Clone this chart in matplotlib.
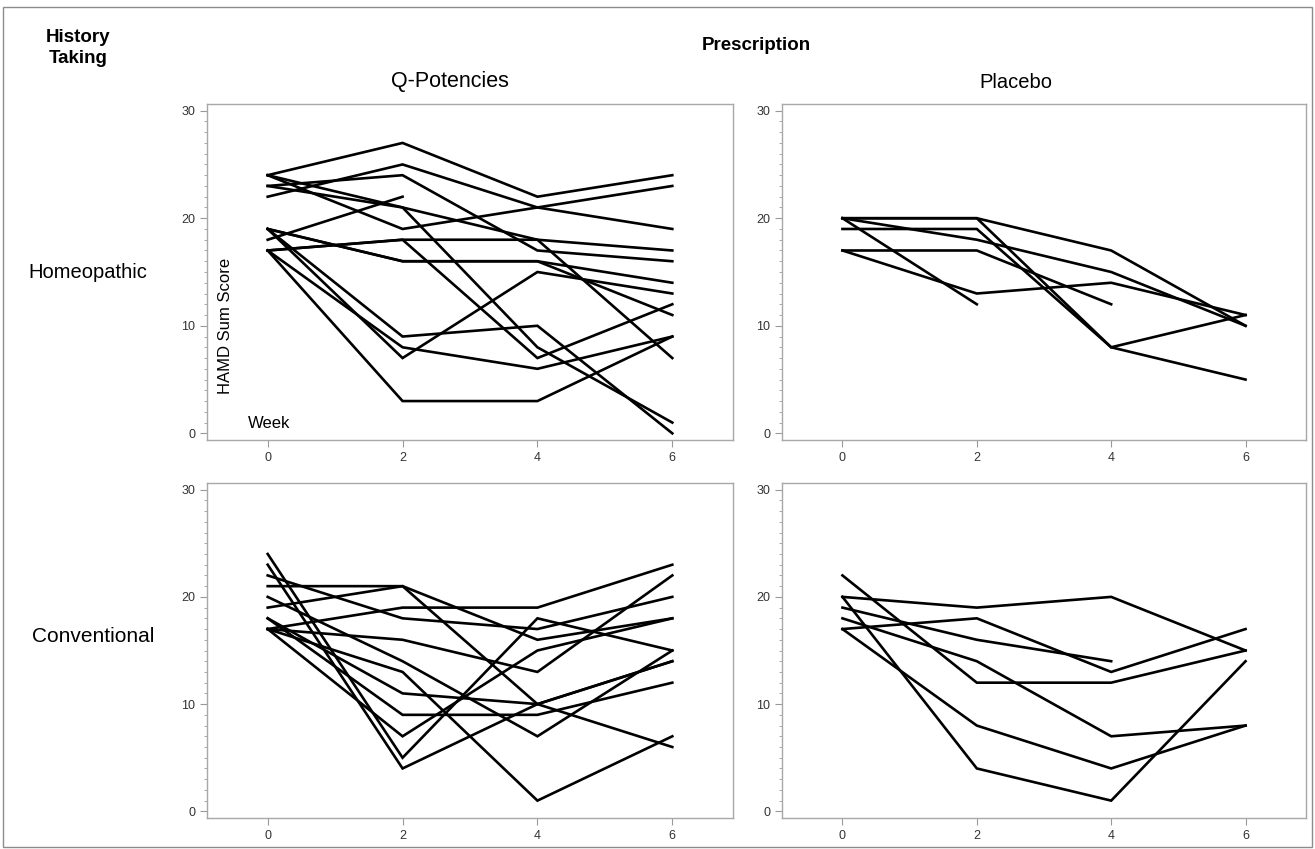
import numpy as np
import matplotlib
matplotlib.use("Agg")
import matplotlib.pyplot as plt
from matplotlib.ticker import MultipleLocator
from matplotlib.patches import Rectangle

plt.rcParams['font.family'] = ['Liberation Sans', 'DejaVu Sans']

nan = np.nan
weeks = [0, 2, 4, 6]

# HAMD sum score per patient, weeks 0/2/4/6 (nan = no visit)
homeo_q = [
    [24, 27, 22, 24],
    [22, 25, 21, 19],
    [24, 19, 21, 23],
    [18, 22, nan, nan],
    [23, 24, 17, 16],
    [24, 21, 18, 7],
    [23, 21, 8, 1],
    [17, 18, 18, 17],
    [17, 18, 7, 12],
    [19, 16, 16, 14],
    [19, 16, 16, 11],
    [19, 9, 10, 0],
    [17, 8, 6, 9],
    [19, 7, 15, 13],
    [17, 3, 3, 9],
]
homeo_placebo = [
    [20, 20, 17, 10],
    [20, 18, 15, 10],
    [20, 12, nan, nan],
    [19, 19, 8, 11],
    [20, 20, 8, 5],
    [17, 17, 12, nan],
    [17, 13, 14, 11],
]
conv_q = [
    [24, 5, 18, 15],
    [23, 4, 10, 14],
    [22, 18, 17, 20],
    [21, 21, 16, 18],
    [19, 21, 10, 6],
    [17, 19, 19, 23],
    [17, 16, 13, 22],
    [20, 14, 7, 15],
    [18, 11, 10, 14],
    [18, 9, 9, 12],
    [17, 7, 15, 18],
    [17, 13, 1, 7],
]
conv_placebo = [
    [20, 19, 20, 15],
    [17, 18, 13, 17],
    [19, 16, 14, nan],
    [22, 12, 12, 15],
    [18, 14, 7, 8],
    [17, 8, 4, 8],
    [20, 4, 1, 14],
]

W, H = 1315, 849
fig = plt.figure(figsize=(W / 100, H / 100), dpi=100)
fig.add_artist(Rectangle((0.002, 0.002), 0.996, 0.99, transform=fig.transFigure,
                         fill=False, edgecolor='#8c8c8c', lw=1.0))

def px_axes(left, top, right, bottom):
    return fig.add_axes([left / W, 1 - bottom / H, (right - left) / W, (bottom - top) / H])

panels = [
    (homeo_q, (207, 104, 733, 440)),
    (homeo_placebo, (782, 104, 1306, 440)),
    (conv_q, (207, 483, 733, 818)),
    (conv_placebo, (782, 483, 1306, 818)),
]

for i, (data, box) in enumerate(panels):
    ax = px_axes(*box)
    for row in data:
        y = np.array(row, dtype=float)
        ax.plot(weeks, y, color='black', lw=1.9, solid_joinstyle='miter')
    ax.set_xlim(-0.9, 6.9)
    ax.set_ylim(-0.62, 30.62)
    ax.set_xticks(weeks)
    ax.set_yticks([0, 10, 20, 30])
    ax.yaxis.set_minor_locator(MultipleLocator(1))
    ax.tick_params(axis='both', labelsize=9, colors='#333333', length=5, width=0.8)
    ax.tick_params(axis='y', which='minor', length=2.5, width=0.6, colors='#999999')
    ax.tick_params(axis='both', which='major', color='#999999')
    for s in ax.spines.values():
        s.set_color('#a8a8a8')
        s.set_linewidth(1.0)
    if i == 0:
        ax.text(-0.3, 0.9, 'Week', fontsize=12, ha='left', va='center')
        ax.text(-0.62, 10.0, 'HAMD Sum Score', fontsize=12, rotation=90,
                ha='center', va='center')

fig.text(78 / W, 1 - 48 / H, 'History\nTaking', fontsize=13.5, fontweight='bold',
         ha='center', va='center', linespacing=1.3)
fig.text(756 / W, 1 - 46 / H, 'Prescription', fontsize=13.5, fontweight='bold',
         ha='center', va='center')
fig.text(450 / W, 1 - 82 / H, 'Q-Potencies', fontsize=15.5, ha='center', va='center')
fig.text(1016 / W, 1 - 82 / H, 'Placebo', fontsize=14.5, ha='center', va='center')
fig.text(88 / W, 1 - 272 / H, 'Homeopathic', fontsize=14.5, ha='center', va='center')
fig.text(93 / W, 1 - 637 / H, 'Conventional', fontsize=15, ha='center', va='center')

fig.savefig('out.png', dpi=100)
